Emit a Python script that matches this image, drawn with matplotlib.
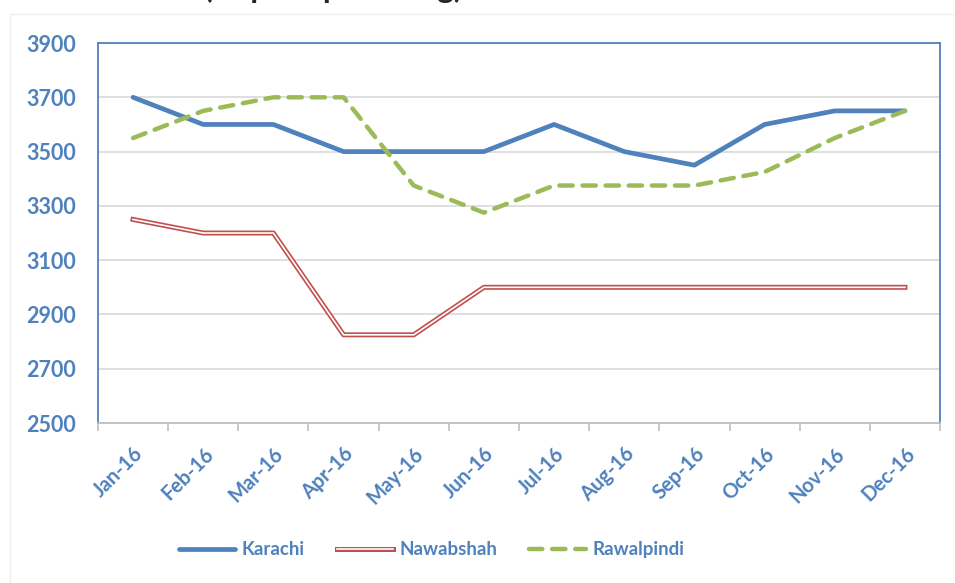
import matplotlib
matplotlib.use("Agg")
import matplotlib.pyplot as plt
import matplotlib.patheffects as pe
from matplotlib.patches import Rectangle
import numpy as np

months = ["Jan-16", "Feb-16", "Mar-16", "Apr-16", "May-16", "Jun-16",
          "Jul-16", "Aug-16", "Sep-16", "Oct-16", "Nov-16", "Dec-16"]
karachi = [3700, 3600, 3600, 3500, 3500, 3500, 3600, 3500, 3450, 3600, 3650, 3650]
nawabshah = [3250, 3200, 3200, 2825, 2825, 3000, 3000, 3000, 3000, 3000, 3000, 3000]
rawalpindi = [3550, 3650, 3700, 3700, 3375, 3275, 3375, 3375, 3375, 3425, 3550, 3650]
yticks = [2500, 2700, 2900, 3100, 3300, 3500, 3700, 3900]

blue = "#4F81BD"
red = "#C0504D"
green = "#9BBB59"

plt.rcParams["font.family"] = ["Lato", "DejaVu Sans"]

fig = plt.figure(figsize=(9.55, 5.83), dpi=100)

# faint chart-area border
fig.patches.append(Rectangle((10 / 955, -0.01), 1.0, 1 - 14 / 583 + 0.01,
                             transform=fig.transFigure, fill=False,
                             edgecolor="#EEEEEE", lw=1.0))

ax = fig.add_axes([0.1026, 0.2744, 0.8817, 0.6518])

x = np.arange(len(months))
ax.plot(x, karachi, color=blue, lw=3.4, solid_capstyle="round",
        solid_joinstyle="round", label="Karachi", zorder=3)
ax.plot(x, nawabshah, color="white", lw=1.2, label="Nawabshah", zorder=3,
        path_effects=[pe.Stroke(linewidth=3.6, foreground=red), pe.Normal()])
ax.plot(x, rawalpindi, color=green, lw=3.2, dashes=(3, 2.2),
        dash_capstyle="round", label="Rawalpindi", zorder=3)

ax.set_xlim(-0.5, len(months) - 0.5)
ax.set_ylim(2500, 3900)
ax.set_yticks(yticks)
ax.grid(axis="y", color="#D9D9D9", lw=1.2)
ax.set_axisbelow(True)

ax.set_xticks(x)
ax.set_xticklabels(months, rotation=45, ha="right", rotation_mode="anchor",
                   fontsize=14.5, fontweight="bold", color=blue)
ax.set_xticks(np.arange(-0.5, len(months)), minor=True)
ax.tick_params(axis="x", which="major", length=0, pad=15)
ax.tick_params(axis="x", which="minor", length=6, color="#BFBFBF", width=1.2)
ax.tick_params(axis="y", length=0, pad=16)
for lbl in ax.get_yticklabels():
    lbl.set_fontsize(15.5)
    lbl.set_fontweight("bold")
    lbl.set_color(blue)

for side in ["left", "top", "right"]:
    ax.spines[side].set_color(blue)
    ax.spines[side].set_linewidth(1.3)
ax.spines["bottom"].set_color("#BFBFBF")
ax.spines["bottom"].set_linewidth(1.3)

leg = fig.legend(loc="center", bbox_to_anchor=(0.452, 0.057), ncol=3,
                 frameon=False, handlelength=3.0, handletextpad=0.35,
                 columnspacing=1.7, prop={"weight": "bold", "size": 13.5})
for t in leg.get_texts():
    t.set_color(blue)

# title sits above the visible area, only its lower edge shows
fig.text(0.349, 1.004, "(Rupees per 40 kg)", ha="center", va="baseline",
         fontsize=22.5, fontweight="bold", color="#262626")

fig.savefig("out.png", dpi=100)
